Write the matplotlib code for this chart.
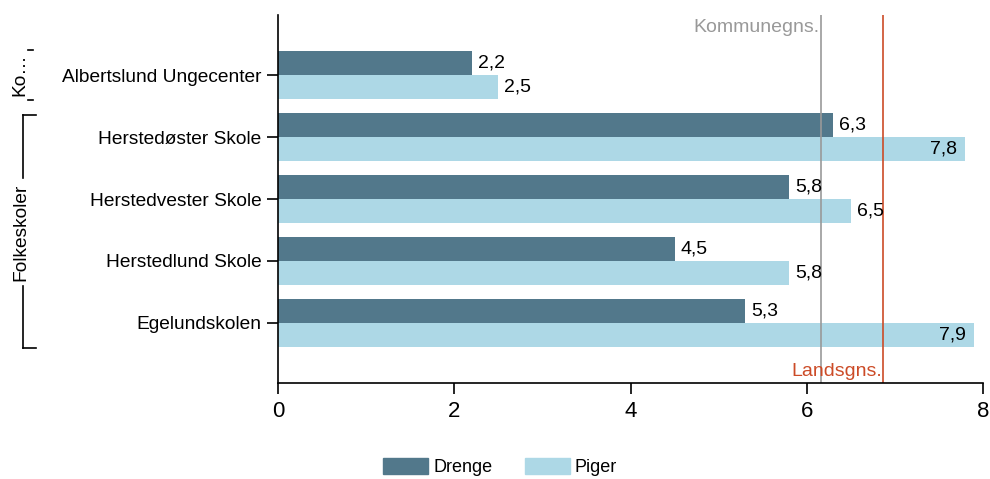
import numpy as np
import matplotlib.pyplot as plt
from matplotlib.patches import Patch

# data
schools = ['Albertslund Ungecenter', 'Herstedøster Skole', 'Herstedvester Skole',
           'Herstedlund Skole', 'Egelundskolen']
drenge = [2.2, 6.3, 5.8, 4.5, 5.3]
piger = [2.5, 7.8, 6.5, 5.8, 7.9]
kommune_avg = 6.16
lands_avg = 6.87
x_ticks = [0, 2, 4, 6, 8]

col_d = '#52788b'
col_p = '#add8e6'
col_k = '#999999'
col_l = '#cc4b27'

plt.rcParams['font.family'] = ['Liberation Sans', 'DejaVu Sans']

fig = plt.figure(figsize=(9.9, 4.79), dpi=100)
ax = fig.add_axes([0.2808, 0.2004, 0.993 - 0.2808, 0.9687 - 0.2004])

y = np.arange(len(schools))
h = 0.39
ax.barh(y - h / 2, drenge, height=h, color=col_d)
ax.barh(y + h / 2, piger, height=h, color=col_p)

# value labels, inside the bar when there is no room outside
fs_val = 14
for yi, v in zip(y, drenge):
    ax.text(v + 0.07, yi - h / 2, f'{v:.1f}'.replace('.', ','), va='center', ha='left', fontsize=fs_val)
for yi, v in zip(y, piger):
    lab = f'{v:.1f}'.replace('.', ',')
    if v > 7.5:
        ax.text(v - 0.1, yi + h / 2, lab, va='center', ha='right', fontsize=fs_val)
    else:
        ax.text(v + 0.07, yi + h / 2, lab, va='center', ha='left', fontsize=fs_val)

# reference lines
ax.axvline(kommune_avg, color=col_k, lw=1.2)
ax.axvline(lands_avg, color=col_l, lw=1.2)
ax.text(kommune_avg - 0.02, -0.77, 'Kommunegns.', color=col_k, ha='right', va='center', fontsize=14)
ax.text(lands_avg - 0.02, 4.79, 'Landsgns.', color=col_l, ha='right', va='center', fontsize=14)

ax.set_xlim(0, 8)
ax.set_ylim(4.97, -0.97)
ax.set_xticks(x_ticks)
ax.set_xticklabels([str(t) for t in x_ticks], fontsize=16)
ax.set_yticks(y)
ax.set_yticklabels(schools, fontsize=13.8)
ax.tick_params(axis='both', direction='out', length=8, width=1.2)
ax.tick_params(axis='x', pad=5)
ax.tick_params(axis='y', length=8, pad=4)
for s in ['top', 'right']:
    ax.spines[s].set_visible(False)
for s in ['left', 'bottom']:
    ax.spines[s].set_linewidth(1.2)

# group brackets on the far left
def fy(py):
    return 1 - py / 479.0

def fx(px):
    return px / 990.0

kw = dict(color='black', lw=1.2, transform=fig.transFigure)
fig.add_artist(plt.Line2D([fx(23), fx(23)], [fy(115), fy(178)], **kw))
fig.add_artist(plt.Line2D([fx(23), fx(23)], [fy(286), fy(348)], **kw))
fig.add_artist(plt.Line2D([fx(23), fx(36)], [fy(115), fy(115)], **kw))
fig.add_artist(plt.Line2D([fx(23), fx(36)], [fy(348), fy(348)], **kw))
fig.text(fx(21), fy(232), 'Folkeskoler', rotation=90, ha='center', va='center', fontsize=13.8)

fig.add_artist(plt.Line2D([fx(28), fx(33)], [fy(50), fy(50)], **kw))
fig.add_artist(plt.Line2D([fx(28), fx(33)], [fy(100), fy(100)], **kw))
fig.text(fx(20), fy(75), 'Ko…', rotation=90, ha='center', va='center', fontsize=13.8)

handles = [Patch(color=col_d, label='Drenge'), Patch(color=col_p, label='Piger')]
fig.legend(handles=handles, loc='center', bbox_to_anchor=(0.505, 0.025), ncol=2,
           frameon=False, fontsize=13, handlelength=2.5, handleheight=1.0,
           handletextpad=0.25, columnspacing=1.8)

fig.savefig('out.png', dpi=100)
